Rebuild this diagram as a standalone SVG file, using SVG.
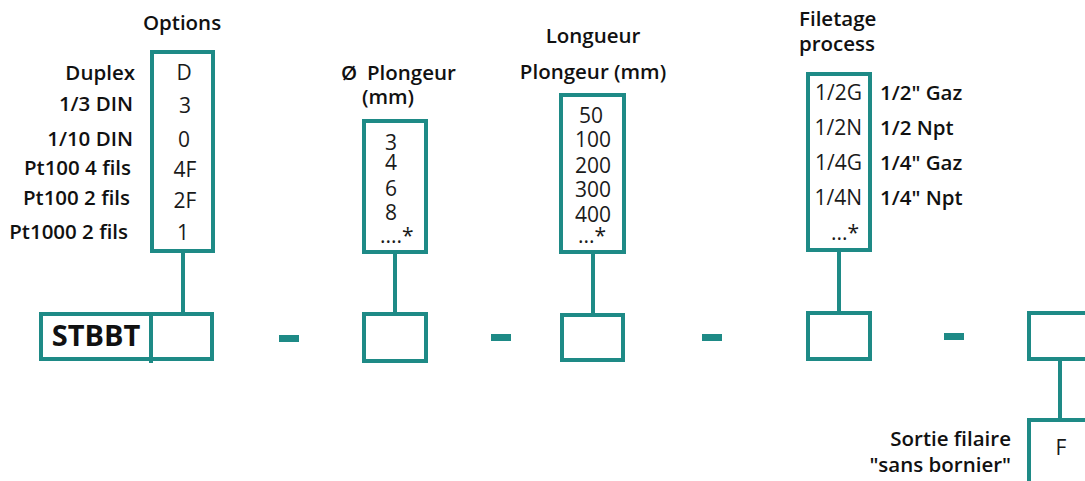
<svg xmlns="http://www.w3.org/2000/svg" width="1085" height="481" viewBox="0 0 1085 481">
<style>
  .box { fill: #ffffff; stroke: #1e8a86; stroke-width: 4; }
  .line { stroke: #1e8a86; stroke-width: 4; fill: none; }
  .dash { fill: #1e8a86; }
  .lbl { font-family: "Open Sans", "Noto Sans", sans-serif; font-weight: 600; font-size: 20.5px; fill: #111111; }
  .val { font-family: "Open Sans", "Noto Sans", sans-serif; font-weight: 400; font-size: 21px; fill: #1a1a1a; }
  .big { font-family: "Open Sans", "Noto Sans", sans-serif; font-weight: 700; font-size: 29px; fill: #111111; }
</style>
<rect width="1085" height="481" fill="#ffffff"/>

<g id="connectors">
  <line class="line" x1="183" y1="252" x2="183" y2="314"/>
  <line class="line" x1="395" y1="253" x2="395" y2="314"/>
  <line class="line" x1="593" y1="253" x2="593" y2="315"/>
  <line class="line" x1="839" y1="251" x2="839" y2="313"/>
  <line class="line" x1="1060" y1="360" x2="1060" y2="420"/>
</g>

<g id="options">
  <text class="lbl" x="182" y="30" text-anchor="middle">Options</text>
  <rect class="box" x="152" y="52" width="61" height="199"/>
  <text class="val" x="184" y="80" text-anchor="middle">D</text>
  <text class="val" x="185" y="113" text-anchor="middle">3</text>
  <text class="val" x="184" y="147" text-anchor="middle">0</text>
  <text class="val" x="185" y="177" text-anchor="middle">4F</text>
  <text class="val" x="185" y="208" text-anchor="middle">2F</text>
  <text class="val" x="183" y="240" text-anchor="middle">1</text>
  <text class="lbl" x="135" y="80" text-anchor="end">Duplex</text>
  <text class="lbl" x="133" y="111" text-anchor="end">1/3 DIN</text>
  <text class="lbl" x="133" y="146" text-anchor="end">1/10 DIN</text>
  <text class="lbl" x="131" y="175" text-anchor="end">Pt100 4 fils</text>
  <text class="lbl" x="130" y="205" text-anchor="end">Pt100 2 fils</text>
  <text class="lbl" x="128" y="239" text-anchor="end">Pt1000 2 fils</text>
</g>

<g id="diametre">
  <text class="lbl" y="80"><tspan x="341">Ø</tspan><tspan x="367">Plongeur</tspan></text>
  <text class="lbl" x="388" y="104" text-anchor="middle">(mm)</text>
  <rect class="box" x="364" y="121" width="62" height="131"/>
  <text class="val" x="391" y="150" text-anchor="middle">3</text>
  <text class="val" x="391" y="170" text-anchor="middle">4</text>
  <text class="val" x="391" y="196" text-anchor="middle">6</text>
  <text class="val" x="391" y="220" text-anchor="middle">8</text>
  <text class="val" x="380" y="243">....*</text>
</g>

<g id="longueur">
  <text class="lbl" x="593" y="43" text-anchor="middle">Longueur</text>
  <text class="lbl" x="593" y="79" text-anchor="middle">Plongeur (mm)</text>
  <rect class="box" x="561" y="95" width="63" height="157"/>
  <text class="val" x="591" y="123" text-anchor="middle">50</text>
  <text class="val" x="593" y="147" text-anchor="middle">100</text>
  <text class="val" x="593" y="173" text-anchor="middle">200</text>
  <text class="val" x="593" y="197" text-anchor="middle">300</text>
  <text class="val" x="593" y="222" text-anchor="middle">400</text>
  <text class="val" x="578" y="243">...*</text>
</g>

<g id="filetage">
  <text class="lbl" x="799" y="26">Filetage</text>
  <text class="lbl" x="799" y="51">process</text>
  <rect class="box" x="808" y="74" width="62" height="176"/>
  <text class="val" x="862" y="100" text-anchor="end">1/2G</text>
  <text class="val" x="862" y="135" text-anchor="end">1/2N</text>
  <text class="val" x="862" y="170" text-anchor="end">1/4G</text>
  <text class="val" x="862" y="205" text-anchor="end">1/4N</text>
  <text class="val" x="859" y="240" text-anchor="end">...*</text>
  <text class="lbl" x="880" y="100">1/2" Gaz</text>
  <text class="lbl" x="880" y="135">1/2 Npt</text>
  <text class="lbl" x="880" y="170">1/4" Gaz</text>
  <text class="lbl" x="880" y="205">1/4" Npt</text>
</g>

<g id="code-stbbt">
  <rect class="box" x="41" y="314" width="171" height="45"/>
  <line class="line" x1="151" y1="314" x2="151" y2="363"/>
  <text class="big" x="96" y="346" text-anchor="middle">STBBT</text>
</g>

<g id="code-diametre">
  <rect class="box" x="364" y="314" width="62" height="47"/>
</g>

<g id="code-longueur">
  <rect class="box" x="562" y="315" width="61" height="45"/>
</g>

<g id="code-filetage">
  <rect class="box" x="808" y="313" width="62" height="46"/>
</g>

<g id="code-sortie">
  <rect class="box" x="1029" y="313" width="80" height="46"/>
</g>

<g id="sortie-filaire">
  <rect class="box" x="1029" y="420" width="80" height="80"/>
  <text class="val" x="1061" y="455" text-anchor="middle">F</text>
  <text class="lbl" x="1011" y="446" text-anchor="end">Sortie filaire</text>
  <text class="lbl" x="1011" y="472" text-anchor="end">"sans bornier"</text>
</g>

<g id="separators">
  <rect class="dash" x="279" y="335" width="20" height="7"/>
  <rect class="dash" x="491" y="334" width="20" height="7"/>
  <rect class="dash" x="702" y="334" width="20" height="7"/>
  <rect class="dash" x="944" y="333" width="20" height="7"/>
</g>
</svg>
